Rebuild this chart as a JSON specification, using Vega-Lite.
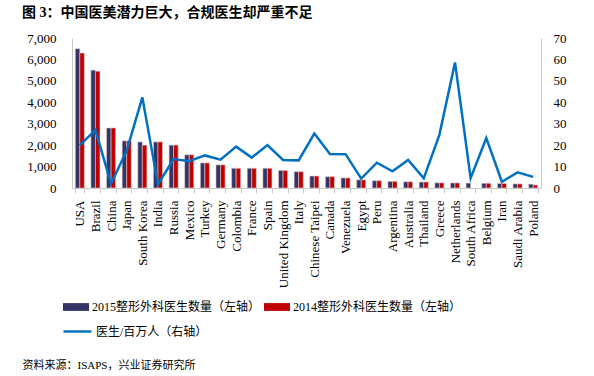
{
  "$schema": "https://vega.github.io/schema/vega-lite/v6.json",
  "width": 469,
  "height": 150,
  "autosize": {"type": "none"},
  "padding": {"left": 72, "top": 38, "right": 53, "bottom": 188},
  "background": "white",
  "config": {"view": {"stroke": null}, "font": "Liberation Serif"},
  "title": {
    "text": "图 3：中国医美潜力巨大，合规医生却严重不足",
    "anchor": "start",
    "frame": "group",
    "dx": -50,
    "offset": 12,
    "font": "Liberation Serif, Noto Sans CJK SC",
    "fontSize": 14,
    "fontWeight": "bold",
    "color": "#000000"
  },
  "datasets": {
    "bars": [
      {"country": "USA", "series": "2015整形外科医生数量（左轴）", "value": 6500},
      {"country": "USA", "series": "2014整形外科医生数量（左轴）", "value": 6300},
      {"country": "Brazil", "series": "2015整形外科医生数量（左轴）", "value": 5500},
      {"country": "Brazil", "series": "2014整形外科医生数量（左轴）", "value": 5450},
      {"country": "China", "series": "2015整形外科医生数量（左轴）", "value": 2800},
      {"country": "China", "series": "2014整形外科医生数量（左轴）", "value": 2800},
      {"country": "Japan", "series": "2015整形外科医生数量（左轴）", "value": 2200},
      {"country": "Japan", "series": "2014整形外科医生数量（左轴）", "value": 2200},
      {"country": "South Korea", "series": "2015整形外科医生数量（左轴）", "value": 2150},
      {"country": "South Korea", "series": "2014整形外科医生数量（左轴）", "value": 2000},
      {"country": "India", "series": "2015整形外科医生数量（左轴）", "value": 2150},
      {"country": "India", "series": "2014整形外科医生数量（左轴）", "value": 2150},
      {"country": "Russia", "series": "2015整形外科医生数量（左轴）", "value": 2000},
      {"country": "Russia", "series": "2014整形外科医生数量（左轴）", "value": 2000},
      {"country": "Mexico", "series": "2015整形外科医生数量（左轴）", "value": 1550},
      {"country": "Mexico", "series": "2014整形外科医生数量（左轴）", "value": 1550},
      {"country": "Turkey", "series": "2015整形外科医生数量（左轴）", "value": 1170},
      {"country": "Turkey", "series": "2014整形外科医生数量（左轴）", "value": 1170},
      {"country": "Germany", "series": "2015整形外科医生数量（左轴）", "value": 1080},
      {"country": "Germany", "series": "2014整形外科医生数量（左轴）", "value": 1080},
      {"country": "Colombia", "series": "2015整形外科医生数量（左轴）", "value": 920},
      {"country": "Colombia", "series": "2014整形外科医生数量（左轴）", "value": 920},
      {"country": "France", "series": "2015整形外科医生数量（左轴）", "value": 920},
      {"country": "France", "series": "2014整形外科医生数量（左轴）", "value": 920},
      {"country": "Spain", "series": "2015整形外科医生数量（左轴）", "value": 920},
      {"country": "Spain", "series": "2014整形外科医生数量（左轴）", "value": 920},
      {"country": "United Kingdom", "series": "2015整形外科医生数量（左轴）", "value": 820},
      {"country": "United Kingdom", "series": "2014整形外科医生数量（左轴）", "value": 815},
      {"country": "Italy", "series": "2015整形外科医生数量（左轴）", "value": 760},
      {"country": "Italy", "series": "2014整形外科医生数量（左轴）", "value": 760},
      {"country": "Chinese Taipei", "series": "2015整形外科医生数量（左轴）", "value": 560},
      {"country": "Chinese Taipei", "series": "2014整形外科医生数量（左轴）", "value": 560},
      {"country": "Canada", "series": "2015整形外科医生数量（左轴）", "value": 530},
      {"country": "Canada", "series": "2014整形外科医生数量（左轴）", "value": 530},
      {"country": "Venezuela", "series": "2015整形外科医生数量（左轴）", "value": 470},
      {"country": "Venezuela", "series": "2014整形外科医生数量（左轴）", "value": 470},
      {"country": "Egypt", "series": "2015整形外科医生数量（左轴）", "value": 380},
      {"country": "Egypt", "series": "2014整形外科医生数量（左轴）", "value": 380},
      {"country": "Peru", "series": "2015整形外科医生数量（左轴）", "value": 340},
      {"country": "Peru", "series": "2014整形外科医生数量（左轴）", "value": 340},
      {"country": "Argentina", "series": "2015整形外科医生数量（左轴）", "value": 310},
      {"country": "Argentina", "series": "2014整形外科医生数量（左轴）", "value": 310},
      {"country": "Australia", "series": "2015整形外科医生数量（左轴）", "value": 290},
      {"country": "Australia", "series": "2014整形外科医生数量（左轴）", "value": 290},
      {"country": "Thailand", "series": "2015整形外科医生数量（左轴）", "value": 280},
      {"country": "Thailand", "series": "2014整形外科医生数量（左轴）", "value": 280},
      {"country": "Greece", "series": "2015整形外科医生数量（左轴）", "value": 240},
      {"country": "Greece", "series": "2014整形外科医生数量（左轴）", "value": 240},
      {"country": "Netherlands", "series": "2015整形外科医生数量（左轴）", "value": 235},
      {"country": "Netherlands", "series": "2014整形外科医生数量（左轴）", "value": 235},
      {"country": "South Africa", "series": "2015整形外科医生数量（左轴）", "value": 230},
      {"country": "Belgium", "series": "2015整形外科医生数量（左轴）", "value": 220},
      {"country": "Belgium", "series": "2014整形外科医生数量（左轴）", "value": 220},
      {"country": "Iran", "series": "2015整形外科医生数量（左轴）", "value": 210},
      {"country": "Iran", "series": "2014整形外科医生数量（左轴）", "value": 210},
      {"country": "Saudi Arabia", "series": "2015整形外科医生数量（左轴）", "value": 190},
      {"country": "Saudi Arabia", "series": "2014整形外科医生数量（左轴）", "value": 190},
      {"country": "Poland", "series": "2015整形外科医生数量（左轴）", "value": 180},
      {"country": "Poland", "series": "2014整形外科医生数量（左轴）", "value": 140}
    ],
    "line": [
      {"country": "USA", "density": 20},
      {"country": "Brazil", "density": 27},
      {"country": "China", "density": 2.0},
      {"country": "Japan", "density": 17.5},
      {"country": "South Korea", "density": 42.3},
      {"country": "India", "density": 1.7},
      {"country": "Russia", "density": 13.5},
      {"country": "Mexico", "density": 12.5},
      {"country": "Turkey", "density": 15.2},
      {"country": "Germany", "density": 13.2},
      {"country": "Colombia", "density": 19.3},
      {"country": "France", "density": 14.2},
      {"country": "Spain", "density": 20},
      {"country": "United Kingdom", "density": 13.1},
      {"country": "Italy", "density": 12.9},
      {"country": "Chinese Taipei", "density": 25.4},
      {"country": "Canada", "density": 15.9},
      {"country": "Venezuela", "density": 15.8},
      {"country": "Egypt", "density": 4.4},
      {"country": "Peru", "density": 11.8},
      {"country": "Argentina", "density": 7.8},
      {"country": "Australia", "density": 13.1},
      {"country": "Thailand", "density": 4.5},
      {"country": "Greece", "density": 24.8},
      {"country": "Netherlands", "density": 58.6},
      {"country": "South Africa", "density": 4.6},
      {"country": "Belgium", "density": 23.3},
      {"country": "Iran", "density": 2.9},
      {"country": "Saudi Arabia", "density": 7.3},
      {"country": "Poland", "density": 5.2}
    ]
  },
  "layer": [
    {
      "data": {"name": "bars"},
      "mark": {"type": "bar", "stroke": "#e2c6ca", "strokeWidth": 0.6},
      "encoding": {
        "x": {
          "field": "country",
          "type": "nominal",
          "scale": {
            "domain": ["USA", "Brazil", "China", "Japan", "South Korea", "India", "Russia", "Mexico", "Turkey", "Germany", "Colombia", "France", "Spain", "United Kingdom", "Italy", "Chinese Taipei", "Canada", "Venezuela", "Egypt", "Peru", "Argentina", "Australia", "Thailand", "Greece", "Netherlands", "South Africa", "Belgium", "Iran", "Saudi Arabia", "Poland"],
            "paddingInner": 0.42,
            "paddingOuter": 0.21
          },
          "axis": {
            "title": "资料来源：ISAPS，兴业证券研究所",
            "titleX": -50,
            "titleY": 177,
            "titleAlign": "left",
            "titleBaseline": "middle",
            "titleFont": "Liberation Serif, Noto Sans CJK SC",
            "titleFontSize": 11,
            "titleFontWeight": "normal",
            "titleColor": "#000000",
            "labelAngle": -90,
            "labelAlign": "right",
            "labelBaseline": "middle",
            "labelFontSize": 13,
            "labelColor": "#000000",
            "labelPadding": 7,
            "tickBand": "extent",
            "tickSize": 5,
            "tickColor": "#c8c8c8",
            "domainColor": "#c8c8c8",
            "labelLimit": 0
          }
        },
        "xOffset": {
          "field": "series",
          "type": "nominal",
          "scale": {"domain": ["2015整形外科医生数量（左轴）", "2014整形外科医生数量（左轴）"], "paddingInner": 0}
        },
        "y": {
          "field": "value",
          "type": "quantitative",
          "scale": {"domain": [0, 7000]},
          "axis": {
            "title": null,
            "values": [0, 1000, 2000, 3000, 4000, 5000, 6000, 7000],
            "format": ",.0f",
            "grid": false,
            "ticks": false,
            "labelPadding": 16,
            "labelFontSize": 13,
            "labelColor": "#000000",
            "domainColor": "#c8c8c8"
          }
        },
        "color": {
          "field": "series",
          "type": "nominal",
          "scale": {"domain": ["2015整形外科医生数量（左轴）", "2014整形外科医生数量（左轴）"], "range": ["#343466", "#c00000"]},
          "legend": {
            "orient": "none",
            "legendX": -9,
            "legendY": 256,
            "direction": "horizontal",
            "title": null,
            "symbolType": "M-1,-0.3H1V0.3H-1Z",
            "symbolSize": 676,
            "symbolStrokeWidth": 0,
            "labelFont": "Liberation Serif, Noto Sans CJK SC",
            "labelFontSize": 12,
            "labelColor": "#000000",
            "labelOffset": 3,
            "columnPadding": 3,
            "labelLimit": 0
          }
        }
      }
    },
    {
      "data": {"name": "line"},
      "mark": {"type": "line", "strokeWidth": 2.5},
      "encoding": {
        "x": {
          "field": "country",
          "type": "nominal",
          "scale": {
            "domain": ["USA", "Brazil", "China", "Japan", "South Korea", "India", "Russia", "Mexico", "Turkey", "Germany", "Colombia", "France", "Spain", "United Kingdom", "Italy", "Chinese Taipei", "Canada", "Venezuela", "Egypt", "Peru", "Argentina", "Australia", "Thailand", "Greece", "Netherlands", "South Africa", "Belgium", "Iran", "Saudi Arabia", "Poland"],
            "paddingInner": 0.42,
            "paddingOuter": 0.21
          },
          "axis": {
            "title": "资料来源：ISAPS，兴业证券研究所",
            "titleX": -50,
            "titleY": 177,
            "titleAlign": "left",
            "titleBaseline": "middle",
            "titleFont": "Liberation Serif, Noto Sans CJK SC",
            "titleFontSize": 11,
            "titleFontWeight": "normal",
            "titleColor": "#000000",
            "labelAngle": -90,
            "labelAlign": "right",
            "labelBaseline": "middle",
            "labelFontSize": 13,
            "labelColor": "#000000",
            "labelPadding": 7,
            "tickBand": "extent",
            "tickSize": 5,
            "tickColor": "#c8c8c8",
            "domainColor": "#c8c8c8",
            "labelLimit": 0
          }
        },
        "y": {
          "field": "density",
          "type": "quantitative",
          "scale": {"domain": [0, 70]},
          "axis": {
            "orient": "right",
            "title": null,
            "values": [0, 10, 20, 30, 40, 50, 60, 70],
            "grid": false,
            "ticks": false,
            "labelPadding": 12,
            "labelFontSize": 13,
            "labelColor": "#000000",
            "domainColor": "#c8c8c8"
          }
        },
        "stroke": {
          "datum": "医生/百万人（右轴）",
          "type": "nominal",
          "scale": {"range": ["#0070c0"]},
          "legend": {
            "orient": "none",
            "legendX": -10,
            "legendY": 278,
            "title": null,
            "symbolType": "stroke",
            "symbolSize": 784,
            "symbolStrokeWidth": 2.5,
            "labelFont": "Liberation Serif, Noto Sans CJK SC",
            "labelFontSize": 12,
            "labelColor": "#000000",
            "labelOffset": 3,
            "labelLimit": 0
          }
        }
      }
    }
  ],
  "resolve": {"scale": {"y": "independent"}}
}
